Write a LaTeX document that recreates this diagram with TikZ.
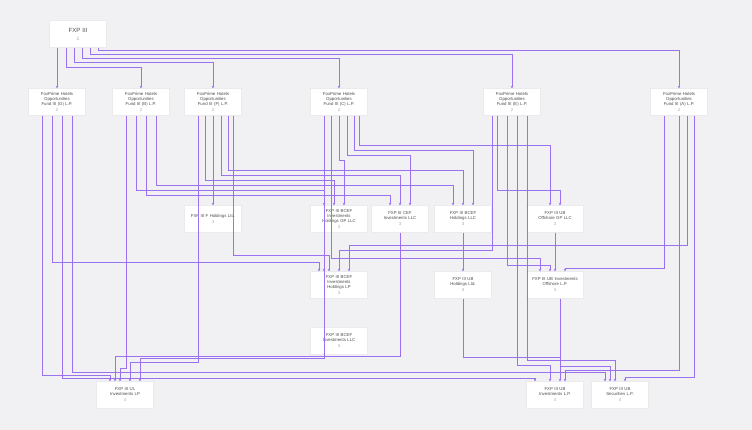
\documentclass[tikz,border=0pt]{standalone}
\usepackage{fontspec}
\setmainfont{Liberation Sans}
\usetikzlibrary{arrows.meta}
\definecolor{wire}{HTML}{9A72F0}
\definecolor{bg}{HTML}{F1F1F4}
\hyphenpenalty=10000
\tikzset{
  entity/.style={draw=black!8, fill=white, minimum width=57pt, minimum height=27pt,
    text width=46pt, align=center, font=\fontsize{4.3}{5}\selectfont,
    text=black!70, inner sep=1pt},
  link/.style={color=wire, line width=0.7pt, -{Stealth[length=2.5pt,width=2.5pt]}},
}
% entity text with small level number
\newcommand{\ent}[2]{#1\\[1pt]{\color{black!35}#2}}
% wire from a (shift sx) down to lane y, across, down into b (shift tx)
\newcommand{\wire}[5]{\draw[link] ([xshift=#2pt]#1.south) -- ([xshift=#2pt]#1.south |- 0,#3) -| ([xshift=#5pt]#4.north);}
\begin{document}
\begin{tikzpicture}[x=1pt,y=-1pt]
  \fill[bg] (0,0) rectangle (752,430);
  \useasboundingbox (0,0) rectangle (752,430);

  \node[entity, font=\fontsize{6}{7}\selectfont] (fxp) at (78,34) {\ent{FXP III}{\tiny 1}};

  \node[entity] (fg) at (57,102) {\ent{FoxPrime Hotels Opportunities Fund III (G) L.P.}{2}};
  \node[entity] (fb) at (141,102) {\ent{FoxPrime Hotels Opportunities Fund III (B) L.P.}{2}};
  \node[entity] (ff) at (213,102) {\ent{FoxPrime Hotels Opportunities Fund III (F) L.P.}{2}};
  \node[entity] (fc) at (339,102) {\ent{FoxPrime Hotels Opportunities Fund III (C) L.P.}{2}};
  \node[entity] (fe) at (512,102) {\ent{FoxPrime Hotels Opportunities Fund III (E) L.P.}{2}};
  \node[entity] (fa) at (679,102) {\ent{FoxPrime Hotels Opportunities Fund III (A) L.P.}{2}};

  \node[entity] (fhold) at (213,219) {\ent{FXP III F Holdings Ltd.}{3}};
  \node[entity] (bcefgp) at (339,219) {\ent{FXP III BCEF Investments Holdings GP LLC}{3}};
  \node[entity] (cef) at (400,219) {\ent{FXP III CEF Investments LLC}{3}};
  \node[entity] (bcefllc) at (463,219) {\ent{FXP III BCEF Holdings LLC}{3}};
  \node[entity] (ubgp) at (555,219) {\ent{FXP III UB Offshore GP LLC}{3}};

  \node[entity] (bceflp) at (339,285) {\ent{FXP III BCEF Investments Holdings LP}{3}};
  \node[entity] (ubhold) at (463,285) {\ent{FXP III UB Holdings Ltd.}{3}};
  \node[entity] (ubofs) at (555,285) {\ent{FXP III UB Investments Offshore L.P.}{3}};

  \node[entity] (bcefinv) at (339,341) {\ent{FXP III BCEF Investments LLC}{3}};

  \node[entity] (ul) at (125,395) {\ent{FXP III UL Investments LP}{4}};
  \node[entity] (ubinv) at (555,395) {\ent{FXP III UB Investments L.P.}{4}};
  \node[entity] (ubsec) at (620,395) {\ent{FXP III UB Securities L.P.}{4}};

  % FXP III to funds
  \draw[link] ([xshift=-21pt]fxp.south) -- ([xshift=-21pt]fxp.south |- fg.north);
  \wire{fxp}{-12}{67}{fb}{0}
  \wire{fxp}{-4}{62}{ff}{0}
  \wire{fxp}{4}{58}{fc}{0}
  \wire{fxp}{12}{54}{fe}{0}
  \wire{fxp}{20}{50}{fa}{0}

  % fund G
  \wire{fg}{-15}{375}{ul}{-15}
  \wire{fg}{-5}{262}{bceflp}{-20}
  \wire{fg}{5}{378}{ubinv}{-20}
  \wire{fg}{15}{372}{ubsec}{-15}
  % fund B
  \wire{fb}{-15}{368}{ul}{-5}
  \wire{fb}{-5}{190}{bcefgp}{-15}
  \wire{fb}{5}{195}{cef}{-10}
  \wire{fb}{15}{185}{bcefllc}{-10}
  % fund F
  \draw[link] (ff.south) -- (fhold.north);
  \wire{ff}{-15}{362}{ul}{5}
  \wire{ff}{-8}{180}{bcefgp}{-5}
  \wire{ff}{8}{175}{cef}{0}
  \wire{ff}{15}{170}{bcefllc}{0}
  \wire{ff}{20}{255}{bceflp}{-10}
  % fund C
  \wire{fc}{0}{160}{bcefgp}{5}
  \wire{fc}{8}{155}{cef}{10}
  \wire{fc}{15}{150}{bcefllc}{10}
  \wire{fc}{20}{145}{ubgp}{-5}
  \wire{fc}{-15}{358}{ul}{15}
  \wire{fc}{-8}{258}{ubofs}{-15}
  % fund E
  \wire{fe}{-20}{250}{bceflp}{0}
  \wire{fe}{-15}{190}{ubgp}{5}
  \wire{fe}{-5}{265}{ubofs}{-5}
  \wire{fe}{5}{365}{ubinv}{-5}
  \wire{fe}{15}{360}{ubsec}{-5}
  % fund A
  \wire{fa}{-15}{268}{ubofs}{10}
  \wire{fa}{8}{245}{bceflp}{10}
  \wire{fa}{0}{370}{ubinv}{10}
  \wire{fa}{15}{377}{ubsec}{5}

  % lower levels
  \draw[link] ([xshift=-15pt]bcefgp.south) -- ([xshift=-15pt]bceflp.north);
  \draw[link] (bcefllc.south) -- (ubhold.north);
  \draw[link] (ubgp.south) -- (ubofs.north);
  \wire{ubhold}{0}{357}{ubinv}{5}
  \wire{ubofs}{5}{366}{ubsec}{-10}
  \wire{cef}{0}{356}{ul}{-10}
\end{tikzpicture}
\end{document}
